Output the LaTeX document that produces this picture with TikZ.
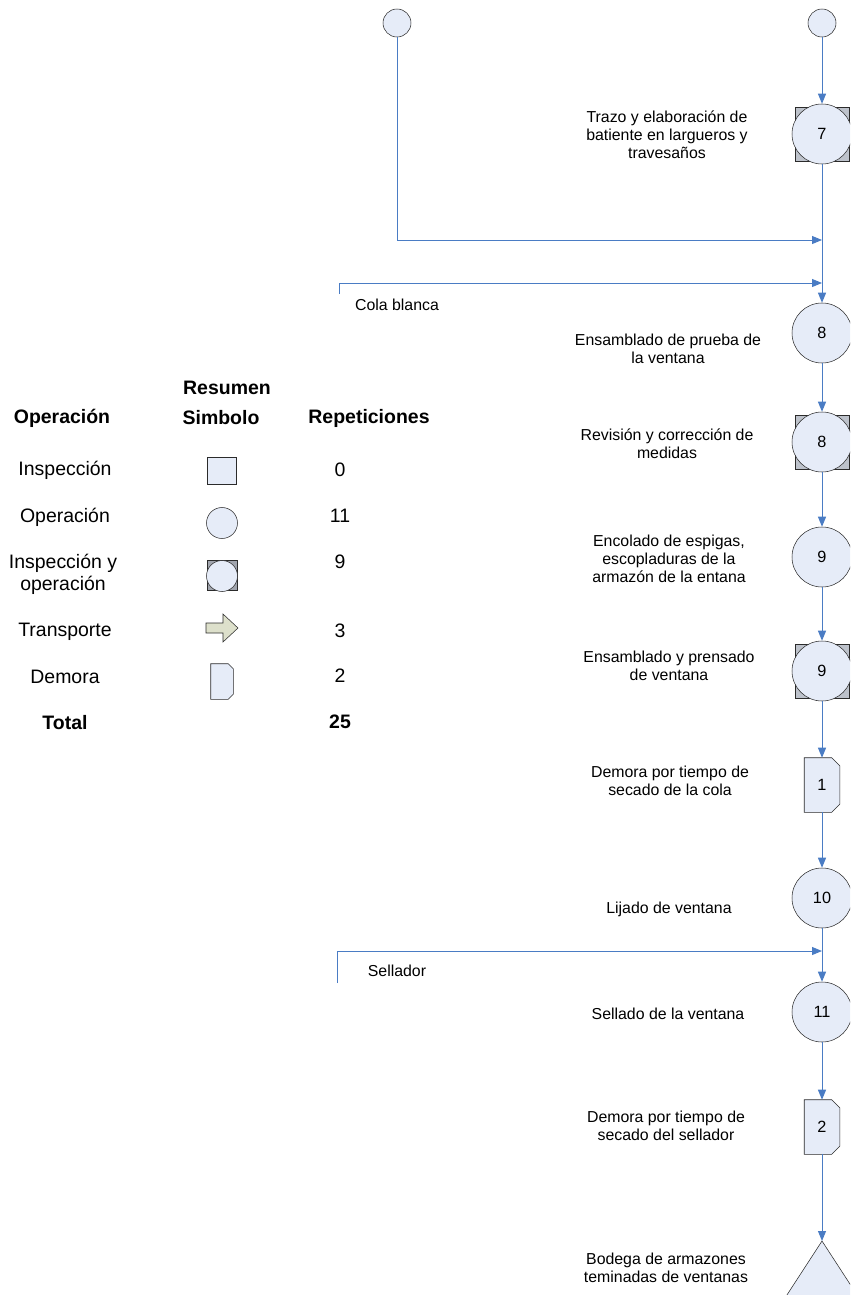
\documentclass[tikz,border=0pt]{standalone}
\usepackage{fontspec}
\setmainfont{Liberation Sans}
\usetikzlibrary{arrows.meta,backgrounds}
\definecolor{symfill}{HTML}{E6ECF8}
\definecolor{flowblue}{HTML}{4A7CC4}
\definecolor{arrfill}{HTML}{DDE0CB}
\definecolor{edgecol}{HTML}{2B2B2B}
\begin{document}
\begin{tikzpicture}[x=0.75pt,y=-0.75pt,
  lblfont/.style={font=\fontsize{11.9}{13.5}\selectfont},
  numfont/.style={font=\fontsize{12.2}{13.5}\selectfont},
  legfont/.style={font=\fontsize{14.6}{16.5}\selectfont},
  legbold/.style={font=\fontsize{14.6}{16.5}\selectfont\bfseries},
  startc/.style={circle,draw=edgecol,fill=symfill,minimum size=21pt,inner sep=0pt},
  opc/.style={circle,draw=edgecol,fill=symfill,minimum size=45pt,inner sep=0pt,numfont},
  insq/.style={rectangle,draw=edgecol,fill=symfill!82!black,minimum size=40.5pt,inner sep=0pt},
  delaybox/.style={rectangle,minimum width=26.25pt,minimum height=40.5pt,inner sep=0pt,numfont},
  delayline/.style={draw=edgecol,fill=symfill},
  lbl/.style={align=center,lblfont,inner sep=0pt},
  flow/.style={draw=flowblue,line width=0.75pt,-{Triangle[length=7.5pt,width=6pt]}},
  lsq/.style={rectangle,draw=edgecol,fill=symfill,minimum width=21.75pt,minimum height=20.25pt,inner sep=0pt},
  lsqc/.style={rectangle,draw=edgecol,fill=symfill!70!black,minimum size=22.5pt,inner sep=0pt},
  lcirc/.style={circle,draw=edgecol,fill=symfill,minimum size=23.25pt,inner sep=0pt},
  ldelay/.style={rectangle,minimum width=16.5pt,minimum height=26.25pt,inner sep=0pt}
]
\useasboundingbox (0,0) rectangle (850,1295);
\clip (0,0) rectangle (850,1295);

% ---- process column ----
\node[startc] (s1) at (397,23) {};
\node[startc] (s2) at (822,23) {};

\node[insq] (q7) at (822,134) {};
\node[opc] (o7) at (822,134) {7};
\node[opc] (o8a) at (822,333) {8};
\node[insq] (q8b) at (822,442) {};
\node[opc] (o8b) at (822,442) {8};
\node[opc] (o9a) at (822,557) {9};
\node[insq] (q9b) at (822,671) {};
\node[opc] (o9b) at (822,671) {9};
\node[delaybox] (d1) at (822,785) {1};
\node[opc] (o10) at (822,898) {10};
\node[opc] (o11) at (822,1012) {11};
\node[delaybox] (d2) at (822,1127) {2};
\coordinate (tri) at (822,1241);
\draw[draw=edgecol,fill=symfill] (tri) -- ++(-52,80) -- ++(104,0) -- cycle;

% ---- flow lines ----
\coordinate (m1) at (822,240);
\coordinate (cb) at (339,294);
\coordinate (m2) at (822,283);
\coordinate (sl) at (337,983);
\coordinate (m3) at (822,951);
\draw[flow] (s1.south) |- (m1);
\draw[flow] (s2) -- (o7);
\draw[flow] (o7) -- (o8a);
\draw[flow] (cb) |- (m2);
\draw[flow] (o8a) -- (o8b);
\draw[flow] (o8b) -- (o9a);
\draw[flow] (o9a) -- (o9b);
\draw[flow] (o9b) -- (d1);
\draw[flow] (d1) -- (o10);
\draw[flow] (o10) -- (o11);
\draw[flow] (sl) |- (m3);
\draw[flow] (o11) -- (d2);
\draw[flow] (d2) -- (tri);

\node[lblfont] (tcb) at (397,305) {Cola blanca};
\node[lblfont] (tsl) at (397,971) {Sellador};

% ---- step descriptions ----
\node[lbl] (l7) at (667,135) {Trazo y elaboración de\\batiente en largueros y\\travesaños};
\node[lbl] (l8a) at (668,349) {Ensamblado de prueba de\\la ventana};
\node[lbl] (l8b) at (667,444) {Revisión y corrección de\\medidas};
\node[lbl] (l9a) at (669,559) {Encolado de espigas,\\escopladuras de la\\armazón de la entana};
\node[lbl] (l9b) at (669,666) {Ensamblado y prensado\\de ventana};
\node[lbl] (ld1) at (670,781) {Demora por tiempo de\\secado de la cola};
\node[lbl] (l10) at (669,909) {Lijado de ventana};
\node[lbl] (l11) at (668,1014) {Sellado de la ventana};
\node[lbl] (ld2) at (666,1126) {Demora por tiempo de\\secado del sellador};
\node[lbl] (ltri) at (666,1268) {Bodega de armazones\\teminadas de ventanas};

% ---- summary table ----
\node[legbold] (h1) at (62,418) {Operación};
\node[legbold] (h2a) at (227,388) {Resumen};
\node[legbold] (h2) at (221,418) {Simbolo};
\node[legbold] (h3) at (369,418) {Repeticiones};

\node[legfont] (r1) at (65,470) {Inspección};
\node[legfont] (r2) at (65,517) {Operación};
\node[legfont,align=center] (r3) at (63,574) {Inspección y\\operación};
\node[legfont] (r4) at (65,632) {Transporte};
\node[legfont] (r5) at (65,677) {Demora};
\node[legbold] (r6) at (65,723) {Total};

\node[lsq] (ls1) at (221.5,470.5) {};
\node[lcirc] (ls2) at (222,523) {};
\node[lsqc] (ls3q) at (222,575.5) {};
\node[lcirc] (ls3) at (222,576) {};
\draw[draw=edgecol,fill=arrfill] (206,623) -- (223,623) -- (223,614) -- (238,628)
  -- (223,642) -- (223,633) -- (206,633) -- cycle;
\node[ldelay] (ls5) at (222,681.5) {};

\node[legfont] (n1) at (340,470) {0};
\node[legfont] (n2) at (340,516) {11};
\node[legfont] (n3) at (340,562) {9};
\node[legfont] (n4) at (340,631) {3};
\node[legfont] (n5) at (340,676) {2};
\node[legbold] (n6) at (340,722) {25};

% delay symbols: rectangles with the two right corners cut, drawn behind their labels
\begin{pgfonlayer}{background}
  \foreach \d in {d1,d2}{
    \draw[delayline] (\d.north west) -- ([xshift=-6pt]\d.north east) -- ([yshift=-6pt]\d.north east)
      -- ([yshift=6pt]\d.south east) -- ([xshift=-6pt]\d.south east) -- (\d.south west) -- cycle;
  }
  \draw[delayline] (ls5.north west) -- ([xshift=-3.75pt]ls5.north east) -- ([yshift=-3.75pt]ls5.north east)
    -- ([yshift=3.75pt]ls5.south east) -- ([xshift=-3.75pt]ls5.south east) -- (ls5.south west) -- cycle;
\end{pgfonlayer}
\end{tikzpicture}
\end{document}
